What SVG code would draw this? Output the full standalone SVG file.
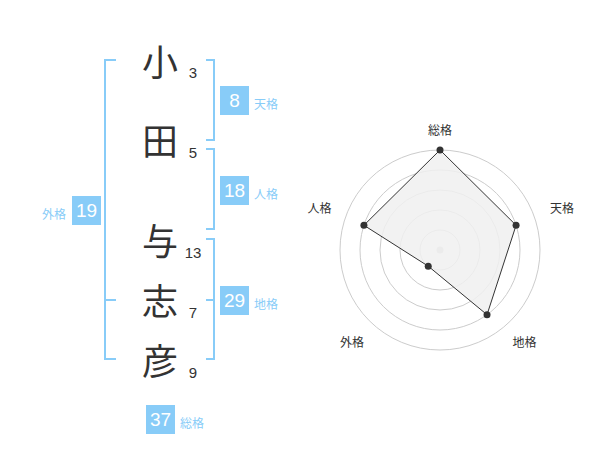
<svg xmlns="http://www.w3.org/2000/svg" width="600" height="470" viewBox="0 0 600 470">
<style>
.br{fill:none;stroke:#88ccf8;stroke-width:2}
.ch{font-family:"Noto Sans CJK JP","Noto Sans CJK SC",sans-serif;font-size:36px;fill:#333;text-anchor:middle}
.num{font-family:"Liberation Sans",Arial,sans-serif;font-size:15px;fill:#333;text-anchor:middle}
.box{fill:#88ccf8}
.bn{font-family:"Liberation Sans",Arial,sans-serif;font-size:19px;fill:#fff;text-anchor:middle}
.bl{font-family:"Noto Sans CJK JP","Noto Sans CJK SC",sans-serif;font-size:12px;fill:#88ccf8}
.ring{fill:none;stroke:#ccc;stroke-width:1}
.rl{font-family:"Noto Sans CJK JP","Noto Sans CJK SC",sans-serif;font-size:12px;fill:#333;text-anchor:middle}
.pt{fill:#333}
</style>
<rect width="600" height="470" fill="#fff"/>
<g id="connectors">
<path class="br" d="M116,60 H105 V359 H116 M105,300 H116"/>
<path class="br" d="M206,60 H214 V140 H206"/>
<path class="br" d="M206,149 H214 V229 H206"/>
<path class="br" d="M206,239 H214 V359 H206 M206,300 H214"/>
</g>
<g id="name">
<text class="ch" x="160" y="76">小</text>
<text class="ch" x="160" y="155">田</text>
<text class="ch" x="160" y="255">与</text>
<text class="ch" x="160" y="315">志</text>
<text class="ch" x="160" y="375">彦</text>
<text class="num" x="193" y="78">3</text>
<text class="num" x="193" y="158">5</text>
<text class="num" x="193" y="258">13</text>
<text class="num" x="193" y="318">7</text>
<text class="num" x="193" y="378">9</text>
</g>
<g id="tenkaku">
<rect class="box" x="220" y="86" width="29" height="29"/>
<text class="bn" x="234.5" y="107">8</text>
<text class="bl" x="254" y="109">天格</text>
</g>
<g id="jinkaku">
<rect class="box" x="220" y="176" width="29" height="29"/>
<text class="bn" x="234.5" y="197">18</text>
<text class="bl" x="254" y="199">人格</text>
</g>
<g id="gaikaku">
<rect class="box" x="72" y="196" width="29" height="29"/>
<text class="bn" x="86.5" y="217">19</text>
<text class="bl" x="42" y="219">外格</text>
</g>
<g id="chikaku">
<rect class="box" x="220" y="286" width="29" height="29"/>
<text class="bn" x="234.5" y="307">29</text>
<text class="bl" x="254" y="309">地格</text>
</g>
<g id="soukaku">
<rect class="box" x="146" y="405" width="29" height="29"/>
<text class="bn" x="160.5" y="426">37</text>
<text class="bl" x="180" y="428">総格</text>
</g>
<g id="radar">
<circle class="ring" cx="440" cy="250" r="100"/>
<circle class="ring" cx="440" cy="250" r="80"/>
<circle class="ring" cx="440" cy="250" r="60"/>
<circle class="ring" cx="440" cy="250" r="40"/>
<circle class="ring" cx="440" cy="250" r="20"/>
<circle cx="440" cy="250" r="3.5" fill="#ccc"/>
<polygon points="440,150 516.08,225.28 487.02,314.72 428.24,266.18 363.92,225.28" fill="#f0f0f0" fill-opacity="0.85" stroke="#333" stroke-width="1"/>
<circle class="pt" cx="440" cy="150" r="3.5"/>
<circle class="pt" cx="516.08" cy="225.28" r="3.5"/>
<circle class="pt" cx="487.02" cy="314.72" r="3.5"/>
<circle class="pt" cx="428.24" cy="266.18" r="3.5"/>
<circle class="pt" cx="363.92" cy="225.28" r="3.5"/>
<text class="rl" x="440" y="135">総格</text>
<text class="rl" x="562" y="213">天格</text>
<text class="rl" x="319.5" y="213">人格</text>
<text class="rl" x="352" y="347">外格</text>
<text class="rl" x="524.5" y="347">地格</text>
</g>
</svg>
